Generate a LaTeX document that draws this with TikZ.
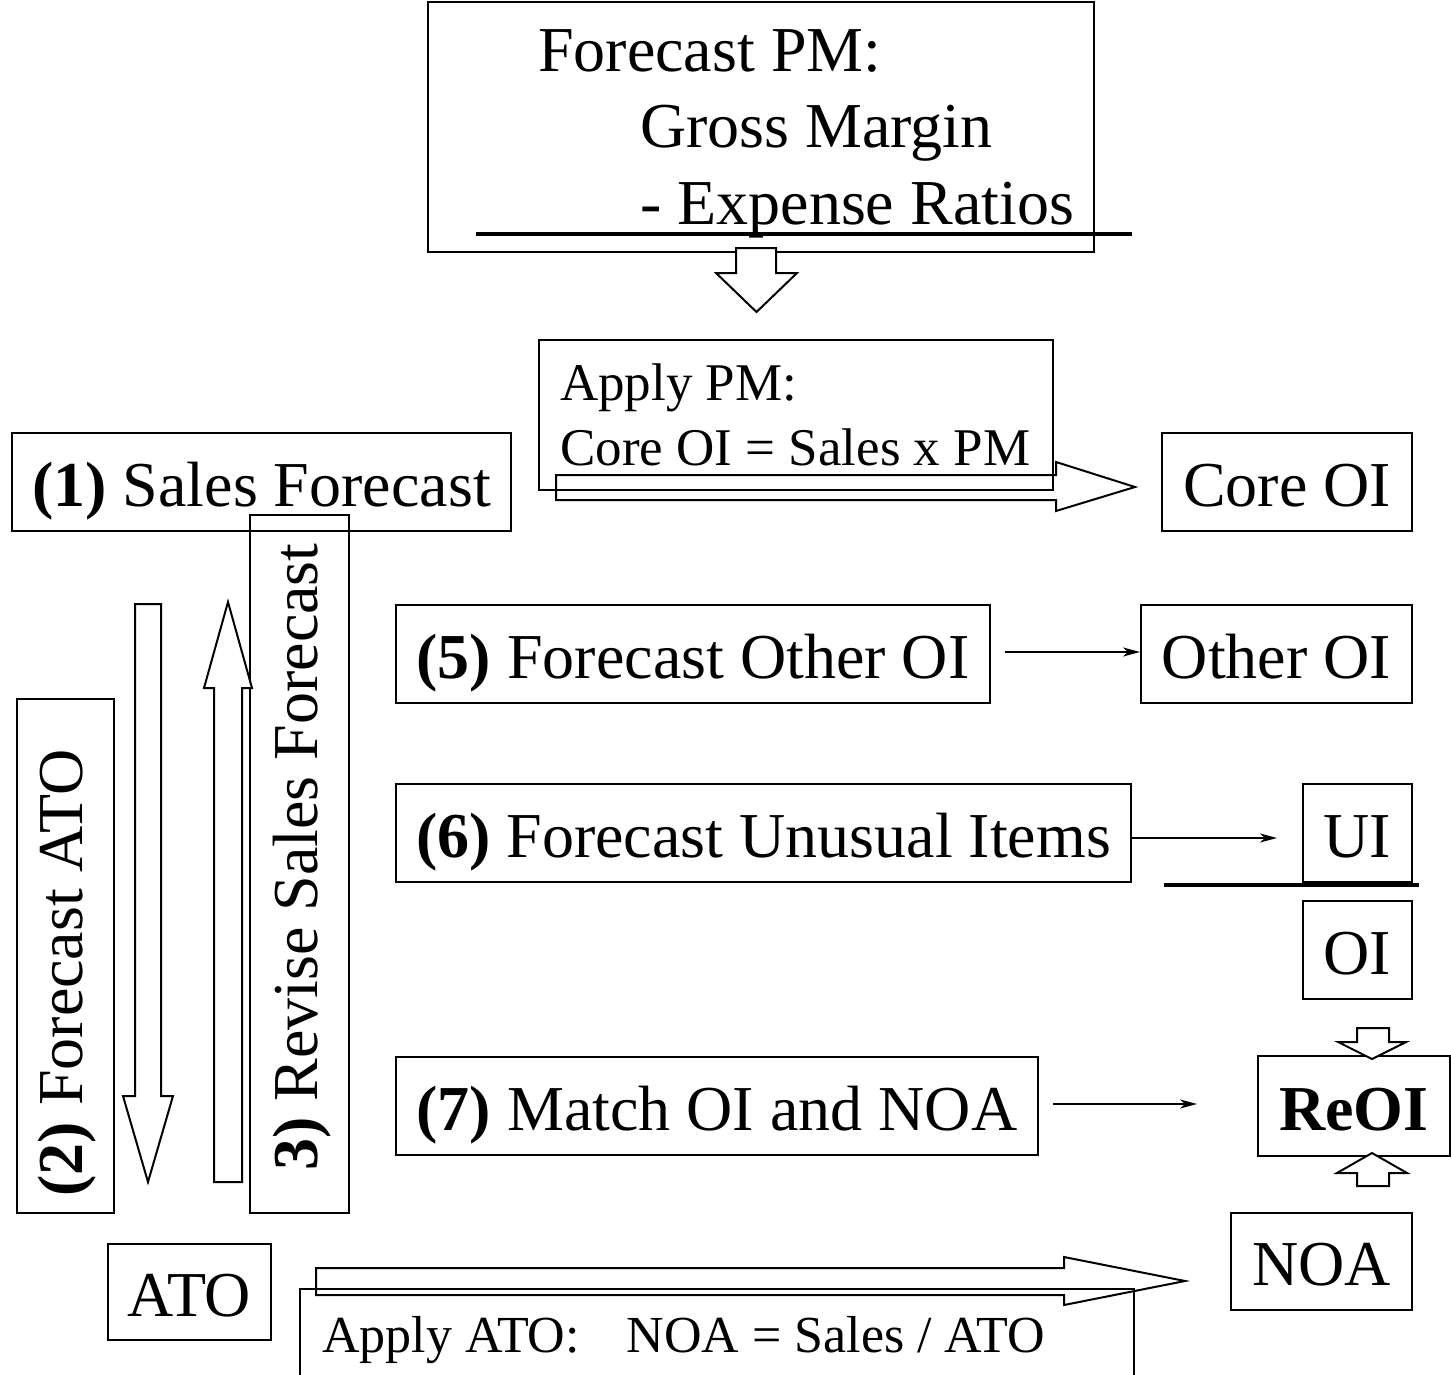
\documentclass[tikz,border=0pt]{standalone}
\usepackage{fontspec}
\setmainfont{Liberation Serif}
\usetikzlibrary{arrows.meta}
\begin{document}
\begin{tikzpicture}[x=1pt,y=-1pt,line join=miter,
  box/.style={draw,line width=2pt,inner sep=0pt,minimum width=#1},
  bigtxt/.style={font=\fontsize{64}{70}\selectfont,inner sep=0pt},
  boxtxt/.style={bigtxt,text height=48pt,text depth=0pt},
  midtxt/.style={font=\fontsize{53}{58}\selectfont,inner sep=0pt},
  blockarrow/.style={draw,line width=2pt,fill=white},
  thinarrow/.style={line width=1.6pt,-{Stealth[length=17pt,width=9pt,inset=5pt]}},
  rule/.style={line width=3.5pt}]
\clip (0,0) rectangle (1451,1375);
\fill[white] (0,0) rectangle (1451,1375);
% top box
\node[box=666,minimum height=250] (pm) at (761,127) {};
\node[bigtxt,anchor=base west] (pm1) at (538,72) {Forecast PM:};
\node[bigtxt,anchor=base west] (pm2) at (640,148) {Gross Margin};
\node[bigtxt,anchor=base west] (pm3) at (640,225) {- Expense Ratios};
\draw[rule] (476,234) -- (1132,234);
% down block arrow
\draw[blockarrow] (736,248) -- (776,248) -- (776,273) -- (797,273) -- (756.5,312) -- (716,273) -- (736,273) -- cycle;
% apply PM
\node[box=514,minimum height=150] (apm) at (796,415) {};
\node[midtxt,anchor=base west] (apm1) at (560,400) {Apply PM:};
\node[midtxt,anchor=base west] (apm2) at (560,465) {Core OI = Sales x PM};
\draw[line width=2pt] (556,475) -- (1056,475) -- (1056,462) -- (1135,487) -- (1056,511) -- (1056,500) -- (556,500) -- cycle;
% core OI
\node[box=250,minimum height=98,boxtxt] (core) at (1287,482) {Core OI};
% sales forecast
\node[box=499,minimum height=98,boxtxt] (sales) at (261.5,482) {\textbf{(1)} Sales Forecast};
% revise box
\node[box=99,minimum height=698] (rev) at (299.5,864) {};
\node[bigtxt,rotate=90] (revt) at (302,857) {\textbf{3)} Revise Sales Forecast};
% forecast ATO box
\node[box=97,minimum height=514] (fato) at (65.5,956) {};
\node[bigtxt,rotate=90] (fatot) at (67,973) {\textbf{(2)} Forecast ATO};
% left block arrows
\draw[blockarrow] (135,604) -- (161,604) -- (161,1096) -- (173,1096) -- (148,1182) -- (123,1096) -- (135,1096) -- cycle;
\draw[blockarrow] (214,1182) -- (242,1182) -- (242,688) -- (252,688) -- (228,602) -- (204,688) -- (214,688) -- cycle;
% (5)
\node[box=594,minimum height=98,boxtxt] (f5) at (693,654) {\textbf{(5)} Forecast Other OI};
\node[box=271,minimum height=98,boxtxt] (oth) at (1276.5,654) {Other OI};
\coordinate (a5) at (1005,652);
\draw[thinarrow] (a5) -- (oth.west |- a5);
% (6)
\node[box=735,minimum height=98,boxtxt] (f6) at (763.5,833) {\textbf{(6)} Forecast Unusual Items};
\node[box=109,minimum height=98,boxtxt] (ui) at (1357.5,833) {UI};
\coordinate (a6) at (1277,838);
\draw[thinarrow] (f6.east |- a6) -- (a6);
\draw[rule] (1164,885) -- (1419,885);
\node[box=109,minimum height=98,boxtxt] (oi) at (1357.5,950) {OI};
% (7)
\node[box=642,minimum height=98,boxtxt] (f7) at (717,1106) {\textbf{(7)} Match OI and NOA};
\node[box=192,minimum height=100,boxtxt] (reoi) at (1354,1106) {\textbf{ReOI}};
\coordinate (a7s) at (1053,1104);
\coordinate (a7e) at (1197,1104);
\draw[thinarrow] (a7s) -- (a7e);
% small block arrows around ReOI
\draw[blockarrow] (1357,1028) -- (1389,1028) -- (1389,1042) -- (1406,1042) -- (1372,1059) -- (1338,1042) -- (1357,1042) -- cycle;
\draw[blockarrow] (1357,1186) -- (1389,1186) -- (1389,1173) -- (1407,1173) -- (1372,1153) -- (1337,1173) -- (1357,1173) -- cycle;
% NOA, ATO
\node[box=181,minimum height=97,boxtxt] (noa) at (1321.5,1261.5) {NOA};
\node[box=163,minimum height=96,boxtxt] (ato) at (189.5,1292) {ATO};
% apply ATO box (open at bottom)
\draw[line width=2pt] (300,1400) -- (300,1289) -- (1134,1289) -- (1134,1400);
\node[font=\fontsize{52}{58}\selectfont,inner sep=0pt,anchor=base west] (aato) at (322,1352) {Apply ATO:\hspace{0.9em}NOA = Sales / ATO};
% bottom block arrow
\draw[line width=2pt] (316,1268) -- (1064,1268) -- (1064,1257) -- (1185,1281) -- (1064,1305) -- (1064,1295) -- (316,1295) -- cycle;
\end{tikzpicture}
\end{document}
